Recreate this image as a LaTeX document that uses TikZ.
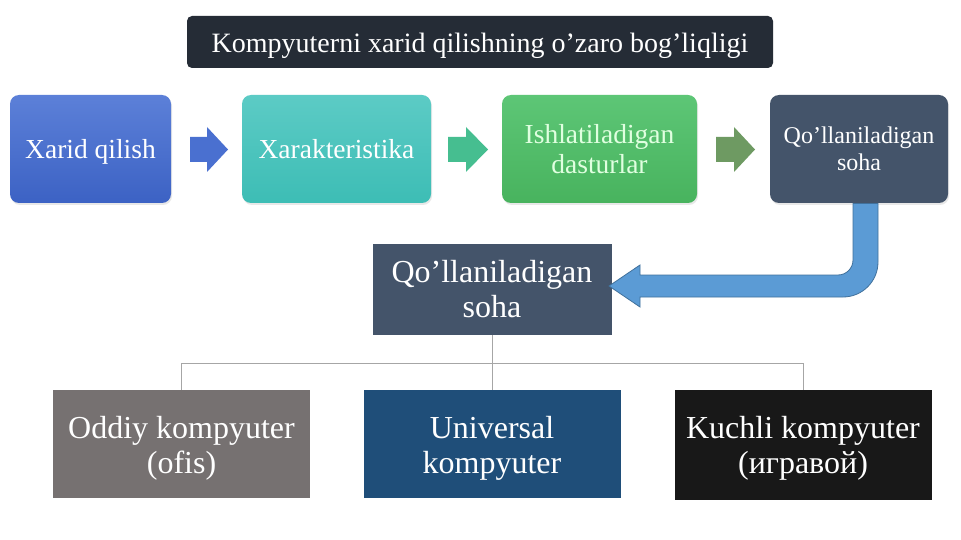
\documentclass[tikz,border=0pt]{standalone}
\usepackage{fontspec}
\setmainfont{Liberation Serif}
\usetikzlibrary{shadows}
\definecolor{titlebg}{HTML}{252C36}
\definecolor{slate}{HTML}{44546A}
\definecolor{bluetop}{HTML}{5C80D8}
\definecolor{bluebot}{HTML}{3C62C4}
\definecolor{tealtop}{HTML}{5CCBC5}
\definecolor{tealbot}{HTML}{3DBDB5}
\definecolor{greentop}{HTML}{5DC676}
\definecolor{greenbot}{HTML}{48B35E}
\definecolor{arrowA}{HTML}{4A70D0}
\definecolor{arrowB}{HTML}{46BE90}
\definecolor{arrowC}{HTML}{6E9A62}
\definecolor{uarrow}{HTML}{5B9BD5}
\definecolor{uarrowline}{HTML}{41719C}
\definecolor{officegray}{HTML}{767171}
\definecolor{univblue}{HTML}{1F4E79}
\definecolor{nearblack}{HTML}{181818}
\definecolor{treeline}{HTML}{A6A6A6}
\begin{document}
\begin{tikzpicture}[x=1pt,y=-1pt,
  topbox/.style={rounded corners=9pt, minimum width=#1, minimum height=108pt, inner sep=0pt, align=center, text=white,
    drop shadow={opacity=0.18, shadow xshift=1pt, shadow yshift=-2pt}},
  bigbox/.style={minimum width=257pt, minimum height=108pt, inner sep=0pt},
  bigtext/.style={align=center, text=white, inner sep=0pt, font=\fontsize{32}{35}\selectfont},
  tree/.style={draw=treeline, line width=0.8pt}]
\useasboundingbox (0,0) rectangle (961,540);
\fill[white] (0,0) rectangle (961,540);

% title
\node[fill=titlebg, rounded corners=5pt, minimum width=586pt, minimum height=52pt, inner sep=0pt,
  text=white, font=\fontsize{28}{30}\selectfont, text height=24pt, text depth=2pt] (title) at (480,42) {Kompyuterni xarid qilishning o’zaro bog’liqligi};

% top row
\node[topbox=161pt, top color=bluetop, bottom color=bluebot, font=\fontsize{27.5}{30}\selectfont, text height=23pt, text depth=3pt] (b1) at (90.5,149) {Xarid qilish};
\node[topbox=189pt, top color=tealtop, bottom color=tealbot, font=\fontsize{27.5}{30}\selectfont, text height=23pt, text depth=3pt] (b2) at (336.5,149) {Xarakteristika};
\node[topbox=195pt, top color=greentop, bottom color=greenbot, font=\fontsize{27.5}{30}\selectfont, text=white!88!green] (b3) at (599.5,149) {Ishlatiladigan\\dasturlar};
\node[topbox=178pt, fill=slate, font=\fontsize{24}{27}\selectfont] (b4) at (859,149) {Qo’llaniladigan\\soha};

% block arrows
\fill[arrowA] (190,137) -- (207,137) -- (207,127) -- (228,149.5) -- (207,172) -- (207,162) -- (190,162) -- cycle;
\fill[arrowB] (448,137) -- (466,137) -- (466,127) -- (488,149.5) -- (466,172) -- (466,162) -- (448,162) -- cycle;
\fill[arrowC] (716,137) -- (734,137) -- (734,127) -- (755,149.5) -- (734,172) -- (734,162) -- (716,162) -- cycle;

% center node
\node[fill=slate, minimum width=239pt, minimum height=91pt, inner sep=0pt, align=center, text=white,
  font=\fontsize{32}{35}\selectfont] (c) at (492,289.5) {Qo’llaniladigan\\soha};

% U-shaped arrow
\filldraw[fill=uarrow, draw=uarrowline, line width=0.8pt]
  (878,203.5) -- (878,262) arc[start angle=0, end angle=90, radius=35]
  -- (640,297) -- (640,307) -- (609,286) -- (640,265) -- (640,275)
  -- (838,275) arc[start angle=90, end angle=0, radius=15] -- (853,203.5) -- cycle;

% bottom row
\node[bigbox, fill=officegray] (o1) at (181.5,444) {};
\node[bigbox, fill=univblue] (o2) at (492,444) {};
\node[bigbox, fill=nearblack, minimum height=110pt] (o3) at (803,445) {};
\node[bigtext] (o1t) at ([yshift=-4pt]o1.center) {Oddiy kompyuter\\(ofis)};
\node[bigtext] (o2t) at ([yshift=-4pt]o2.center) {Universal\\kompyuter};
\node[bigtext] (o3t) at ([yshift=-3pt]o3.center) {Kuchli kompyuter\\(игравой)};

% tree connectors
\coordinate (hub) at (492,363);
\draw[tree] (c.south) -- (hub);
\draw[tree] (hub) -| (o1.north);
\draw[tree] (hub) -- (o2.north);
\draw[tree] (hub) -| (o3.north);
\end{tikzpicture}
\end{document}
